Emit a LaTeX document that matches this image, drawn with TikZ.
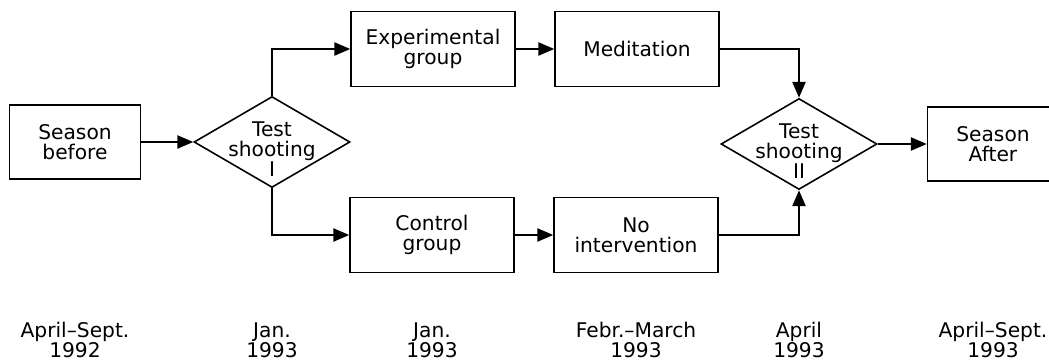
\documentclass[tikz,border=0pt]{standalone}
\usepackage{fontspec}
\setmainfont{DejaVu Sans}
\usetikzlibrary{shapes.geometric,arrows.meta}

\begin{document}
\begin{tikzpicture}[x=0.2mm,y=-0.2mm,
    font=\fontsize{11.5}{11.4}\selectfont,
    smallbox/.style ={rectangle, draw, line width=0.9pt, minimum width=2.62cm, minimum height=1.48cm, align=center, inner sep=0pt},
    groupbox/.style ={rectangle, draw, line width=0.9pt, minimum width=3.28cm, minimum height=1.5cm, align=center, inner sep=0pt},
    decision/.style ={diamond, draw, line width=0.9pt, minimum width=3.12cm, minimum height=1.82cm, inner sep=0pt},
    date/.style ={align=center, inner sep=0pt},
    arr/.style ={line width=0.9pt, -{Triangle[length=9pt,width=7.5pt]}}]
   \useasboundingbox (0,0) rectangle (1049,360);

   \node[smallbox] (before) at (75,142) {Season\\before};
   \node[decision] (testA) at (272,142) {};
   \node[date] (testAtxt) at (272,149) {Test\\shooting\\I};
   \node[groupbox] (exper) at (433,49) {Experimental\\group};
   \node[groupbox] (medit) at (637,49) {Meditation};
   \node[groupbox] (contr) at (432,235) {Control\\group};
   \node[groupbox] (nointv) at (636,235) {No\\intervention};
   \node[decision] (testB) at (799,144) {};
   \node[date] (testBtxt) at (799,151) {Test\\shooting\\II};
   \node[smallbox] (after) at (993,144) {Season\\After};

   \node[date] (d1) at (75,340) {April–Sept.\\1992};
   \node[date] (d2) at (272,340) {Jan.\\1993};
   \node[date] (d3) at (432,340) {Jan.\\1993};
   \node[date] (d4) at (636,340) {Febr.–March\\1993};
   \node[date] (d5) at (799,340) {April\\1993};
   \node[date] (d6) at (993,340) {April–Sept.\\1993};

   \draw[arr] (before) to (testA);
   \draw[arr] (testA.north) |- (exper);
   \draw[arr] (testA.south) |- (contr);
   \draw[arr] (exper) to (medit);
   \draw[arr] (contr) to (nointv);
   \draw[arr] (medit) -| (testB.north);
   \draw[arr] (nointv) -| (testB.south);
   \draw[arr] (testB) to (after);
 \end{tikzpicture}
\end{document}
